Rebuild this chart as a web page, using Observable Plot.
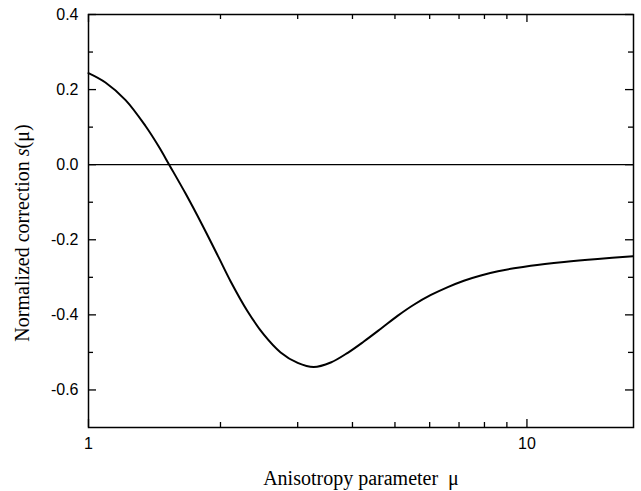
<!DOCTYPE html>
<html><head><meta charset="utf-8">
<script src="https://cdn.jsdelivr.net/npm/d3@7"></script>
<script src="https://cdn.jsdelivr.net/npm/@observablehq/plot@0.6"></script>
<style>body{margin:0;background:#fff}</style>
</head><body><div id="chart"></div>
<script>
// Anisotropy parameter μ (log scale) and normalized correction s(μ)
const mu = [1.0, 1.093, 1.215, 1.349, 1.445, 1.531, 1.665, 1.82, 1.981, 2.11, 2.307, 2.509, 2.743, 3.0, 3.263, 3.568, 3.902, 4.246, 4.642, 5.077, 5.52, 6.04, 6.60, 7.18, 7.85, 8.59, 9.34, 10.2, 12.15, 14.5, 17.46];
const s  = [0.244, 0.219, 0.172, 0.103, 0.049, -0.002, -0.077, -0.162, -0.247, -0.311, -0.391, -0.452, -0.500, -0.528, -0.539, -0.527, -0.501, -0.471, -0.437, -0.402, -0.373, -0.347, -0.326, -0.309, -0.295, -0.284, -0.276, -0.269, -0.259, -0.251, -0.244];

const yMajor = [-0.6, -0.4, -0.2, 0.0, 0.2, 0.4];
const yMinor = [-0.5, -0.3, -0.1, 0.1, 0.3];
const xMajor = [1, 10];
const xMinor = [2, 3, 4, 5, 6, 7, 8, 9];
const xTitle = "Anisotropy parameter  μ";
const yTitle = "Normalized correction s(μ)";

const W = 641, H = 491;
const mL = 88, mR = 8, mT = 14, mB = 64;
const pw = W - mL - mR, ph = H - mT - mB;

const data = mu.map((m, i) => ({mu: m, s: s[i]}));
const serif = "'Liberation Serif', 'Times New Roman', serif";

const chart = Plot.plot({
  width: W, height: H,
  marginLeft: mL, marginRight: mR, marginTop: mT, marginBottom: mB,
  style: {fontFamily: "'Liberation Sans', Arial, sans-serif", fontSize: "16px", background: "#fff", color: "#000"},
  x: {type: "log", domain: [1, 17.5]},
  y: {domain: [-0.7, 0.4]},
  marks: [
    // inward ticks, left/right
    Plot.tickY(yMajor, {y: d => d, insetRight: pw - 8, strokeWidth: 1.3}),
    Plot.tickY(yMajor, {y: d => d, insetLeft: pw - 8, strokeWidth: 1.3}),
    Plot.tickY(yMinor, {y: d => d, insetRight: pw - 5, strokeWidth: 1.3}),
    Plot.tickY(yMinor, {y: d => d, insetLeft: pw - 5, strokeWidth: 1.3}),
    // inward ticks, bottom/top
    Plot.tickX(xMajor, {x: d => d, insetTop: ph - 8, strokeWidth: 1.3}),
    Plot.tickX(xMajor, {x: d => d, insetBottom: ph - 8, strokeWidth: 1.3}),
    Plot.tickX(xMinor, {x: d => d, insetTop: ph - 5, strokeWidth: 1.3}),
    Plot.tickX(xMinor, {x: d => d, insetBottom: ph - 5, strokeWidth: 1.3}),
    Plot.axisY(yMajor, {anchor: "left", tickSize: 0, tickPadding: 10, tickFormat: d => d.toFixed(1), label: null}),
    Plot.axisX(xMajor, {anchor: "bottom", tickSize: 0, tickPadding: 10, tickFormat: d => String(d), label: null}),
    Plot.ruleY([0], {stroke: "#000", strokeWidth: 1.3}),
    Plot.line(data, {x: "mu", y: "s", curve: "catmull-rom", stroke: "#000", strokeWidth: 2}),
    Plot.frame({stroke: "#000", strokeWidth: 1.5}),
    Plot.text([xTitle], {frameAnchor: "bottom", dy: 51, lineAnchor: "middle", textAnchor: "middle", fontFamily: serif, fontSize: 20, text: d => d}),
    Plot.text([yTitle], {frameAnchor: "left", dx: -66, dy: 12, rotate: -90, lineAnchor: "middle", textAnchor: "middle", fontFamily: serif, fontSize: 20, text: d => d})
  ]
});

chart.querySelectorAll("text").forEach(t => {
  if (t.textContent === xTitle) t.style.whiteSpace = "pre";
  if (t.textContent === yTitle) {
    const ns = "http://www.w3.org/2000/svg";
    t.textContent = "";
    const a = document.createElementNS(ns, "tspan"); a.textContent = "Normalized correction ";
    const b = document.createElementNS(ns, "tspan"); b.textContent = "s"; b.setAttribute("font-style", "italic");
    const c = document.createElementNS(ns, "tspan"); c.textContent = "(μ)";
    t.append(a, b, c);
  }
});

document.getElementById("chart").appendChild(chart);
</script>
</body></html>
